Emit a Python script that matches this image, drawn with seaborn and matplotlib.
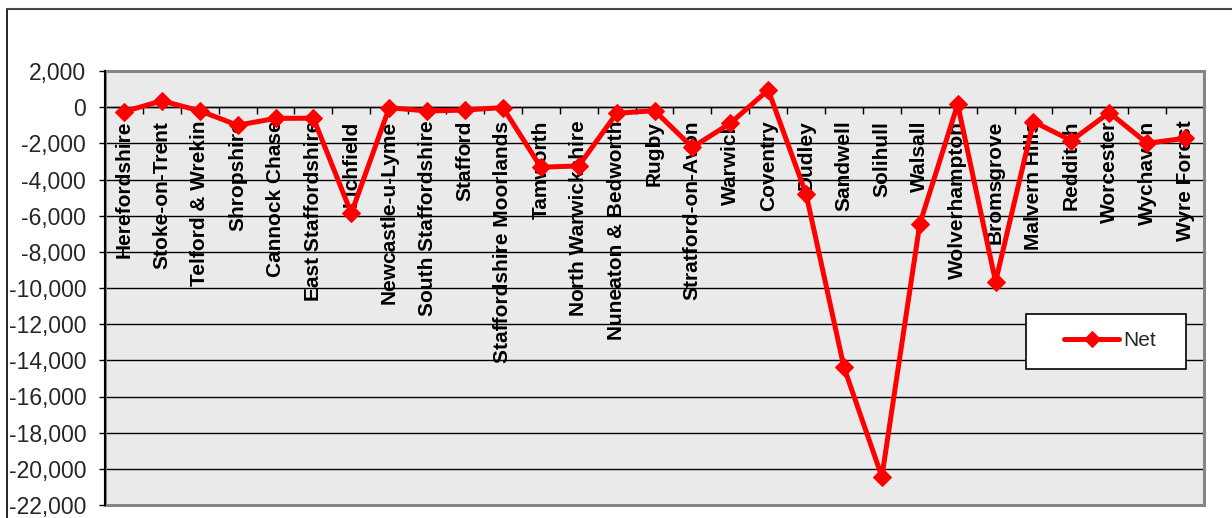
import matplotlib
matplotlib.use("Agg")
import matplotlib.pyplot as plt
from matplotlib.lines import Line2D
from matplotlib.patches import Rectangle
from matplotlib.ticker import FuncFormatter, FixedLocator
import pandas as pd
import seaborn as sns

# data
districts = ["Herefordshire", "Stoke-on-Trent", "Telford & Wrekin", "Shropshire",
             "Cannock Chase", "East Staffordshire", "Lichfield", "Newcastle-u-Lyme",
             "South Staffordshire", "Stafford", "Staffordshire Moorlands", "Tamworth",
             "North Warwickshire", "Nuneaton & Bedworth", "Rugby", "Stratford-on-Avon",
             "Warwick", "Coventry", "Dudley", "Sandwell", "Solihull", "Walsall",
             "Wolverhampton", "Bromsgrove", "Malvern Hills", "Redditch", "Worcester",
             "Wychavon", "Wyre Forest"]
net = [-250, 350, -200, -1000, -620, -610, -5870, -30, -210, -160, -20, -3320,
       -3250, -340, -190, -2220, -890, 950, -4800, -14390, -20440, -6460, 160,
       -9650, -800, -1850, -300, -2000, -1720]
yticks = list(range(-22000, 2001, 2000))

df = pd.DataFrame({"pos": range(len(districts)), "district": districts, "Net": net})

sns.set_theme(style="white")
plt.rcParams["font.family"] = ["Liberation Sans", "DejaVu Sans"]

fig = plt.figure(figsize=(12.32, 5.18), dpi=100)
ax = fig.add_axes([105 / 1232, 1 - 505 / 518, 1099 / 1232, 434 / 518])
ax.set_facecolor("#eaeaea")

sns.lineplot(data=df, x="pos", y="Net", color="#ff0000", linewidth=3.6,
             marker="D", markersize=9, markeredgecolor="#ff0000", sort=False,
             label="Net", ax=ax, zorder=4)

ax.set_xlim(-0.5, len(districts) - 0.5)
ax.set_ylim(-22000, 2000)
ax.set_yticks(yticks)
ax.yaxis.set_major_formatter(FuncFormatter(lambda v, p: f"{int(v):,}"))
ax.grid(axis="y", color="black", linewidth=1.0)
ax.set_axisbelow(True)
ax.set_xlabel("")
ax.set_ylabel("")
ax.tick_params(axis="y", direction="out", length=4.5, width=1, color="black",
               labelsize=16.5, pad=9, left=True)

# category axis sits on zero, ticks between categories
ax.spines["bottom"].set_position(("data", 0))
ax.spines["bottom"].set_color("black")
ax.spines["bottom"].set_linewidth(1)
ax.xaxis.set_major_locator(FixedLocator([i + 0.5 for i in range(-1, len(districts))]))
ax.set_xticklabels([])
ax.tick_params(axis="x", direction="out", length=5, width=1, color="black", bottom=True)
for s in ["top", "right"]:
    ax.spines[s].set_visible(False)
ax.spines["left"].set_color("black")
ax.spines["left"].set_linewidth(1.5)
ax.spines["left"].set_zorder(6)

for i, name in enumerate(districts):
    ax.text(i, -750, name, rotation=90, ha="center", va="top",
            fontsize=15, fontweight="bold", color="black", zorder=3)

# gray plot-area border
ax.add_patch(Rectangle((0, 0), 1, 1, transform=ax.transAxes, fill=False,
                       edgecolor="#858585", linewidth=2.2, clip_on=False, zorder=5))

# legend box drawn as a white panel, entry placed inside it
ax.add_patch(Rectangle((0.838, 0.313), 0.1456, 0.127, transform=ax.transAxes,
                       facecolor="white", edgecolor="black", linewidth=1.2, zorder=7))
leg = ax.legend(loc="center left", bbox_to_anchor=(0.8726, 0.378), fontsize=15,
                frameon=False, borderpad=0, borderaxespad=0,
                handlelength=2.65, handletextpad=0.2)
for h in leg.legend_handles:
    h.set_markersize(8)
leg.set_zorder(8)

# outer chart frame
fig.add_artist(Line2D([7 / 1232, 7 / 1232], [0, 1 - 9 / 518], color="black",
                      linewidth=1.2, transform=fig.transFigure))
fig.add_artist(Line2D([7 / 1232, 1], [1 - 9 / 518, 1 - 9 / 518], color="#444444",
                      linewidth=1.5, transform=fig.transFigure))

fig.savefig("out.png", dpi=100, facecolor="white")
